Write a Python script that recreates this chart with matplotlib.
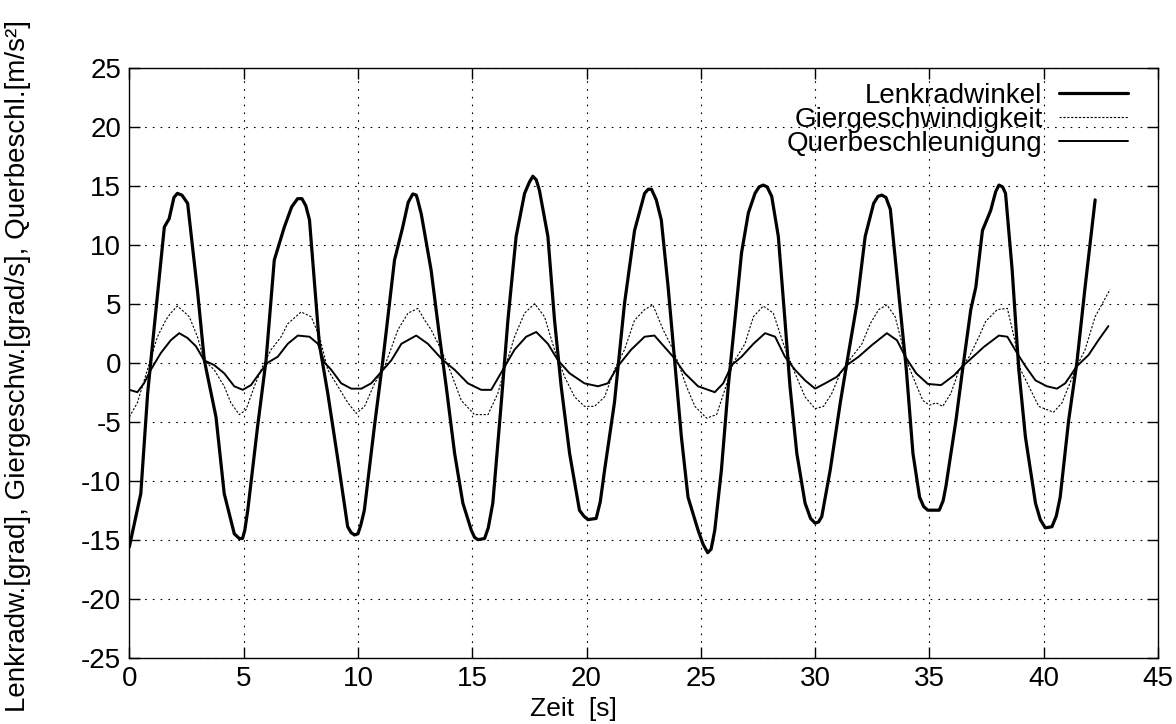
import matplotlib
matplotlib.use("Agg")
import matplotlib.pyplot as plt

plt.rcParams['font.family'] = ['Liberation Sans', 'DejaVu Sans']
plt.rcParams['axes.unicode_minus'] = False

# Lenkradwinkel [grad]
t_lenk = [0, 0.5, 0.8, 1.09, 1.53, 1.74, 1.95, 2.1, 2.3, 2.55, 2.99, 3.28, 3.79, 4.15, 4.59, 4.81, 4.95, 5.05,
          5.18, 5.61, 5.98, 6.34, 6.78, 7.1, 7.36, 7.55, 7.72, 7.88, 8.31, 8.68, 9.12, 9.55, 9.7, 9.85, 10.0,
          10.12, 10.28, 10.72, 11.09, 11.6, 11.96, 12.2, 12.4, 12.55, 12.6, 12.77, 13.2, 13.57, 13.86, 14.23,
          14.59, 14.96, 15.1, 15.25, 15.54, 15.7, 15.9, 16.27, 16.56, 16.92, 17.29, 17.5, 17.65, 17.8, 17.94,
          18.31, 18.6, 18.89, 19.26, 19.69, 19.88, 20.06, 20.42, 20.6, 20.79, 21.22, 21.66, 22.1, 22.54, 22.7,
          22.84, 23.05, 23.27, 23.57, 23.86, 24.15, 24.44, 24.88, 25.1, 25.3, 25.45, 25.61, 25.9, 26.2, 26.49,
          26.78, 27.08, 27.37, 27.55, 27.73, 27.9, 28.1, 28.39, 28.68, 28.9, 29.2, 29.56, 29.8, 30.0, 30.15,
          30.29, 30.66, 31.1, 31.46, 31.83, 32.19, 32.56, 32.75, 32.92, 33.1, 33.29, 33.7, 33.99, 34.28, 34.57,
          34.75, 34.93, 35.43, 35.6, 35.72, 36.16, 36.45, 36.81, 37.03, 37.32, 37.68, 37.9, 38.04, 38.2,
          38.33, 38.62, 38.91, 39.2, 39.64, 39.85, 40.07, 40.36, 40.55, 40.72, 41.09, 41.45, 41.81, 42.25]
y_lenk = [-15.6, -11.1, -2.6, 3.05, 11.5, 12.2, 14.0, 14.35, 14.2, 13.5, 5.9, 0.2, -4.6, -11.1, -14.5, -14.9,
          -14.9, -14.2, -12.5, -5.4, 0.2, 8.7, 11.5, 13.2, 13.9, 13.9, 13.3, 12.1, 1.6, -2.6, -8.2, -13.9,
          -14.4, -14.6, -14.5, -13.8, -12.5, -5.4, 0.2, 8.7, 11.5, 13.6, 14.3, 14.2, 13.9, 12.6, 7.85, 2.2,
          -2.0, -7.7, -11.9, -14.2, -14.8, -15.0, -14.9, -14.0, -11.9, -3.4, 3.6, 10.7, 14.35, 15.3, 15.8,
          15.5, 14.6, 10.7, 3.6, -2.0, -7.7, -12.5, -13.0, -13.3, -13.2, -11.8, -9.1, -3.4, 5.0, 11.2, 14.35,
          14.7, 14.7, 13.8, 12.1, 6.4, 0.0, -6.3, -11.4, -14.2, -15.4, -16.1, -15.8, -14.2, -9.1, -2.0, 3.6,
          9.3, 12.7, 14.35, 14.9, 15.05, 14.9, 14.1, 10.7, 3.6, -2.0, -7.7, -11.9, -13.2, -13.6, -13.5,
          -13.05, -9.1, -3.4, 0.8, 5.0, 10.7, 13.5, 14.1, 14.2, 14.0, 13.0, 5.0, -0.6, -7.7, -11.4, -12.2,
          -12.5, -12.5, -11.7, -10.5, -4.9, -0.6, 4.5, 6.4, 11.2, 12.9, 14.5, 15.05, 14.9, 14.35, 7.85, -0.6,
          -6.3, -11.9, -13.3, -14.0, -13.9, -13.0, -11.4, -4.9, 0.0, 6.4, 13.8]

# Giergeschwindigkeit [grad/s]
t_gier = [0, 0.35, 0.79, 1.23, 1.59, 1.81, 2.1, 2.4, 2.62, 2.98, 3.27, 3.71, 4.15, 4.44, 4.81, 5.1, 5.47, 5.83,
          6.2, 6.64, 6.93, 7.51, 7.95, 8.32, 8.68, 9.12, 9.56, 9.93, 10.29, 10.73, 11.17, 11.75, 12.19, 12.62,
          12.92, 13.2, 13.64, 14.08, 14.52, 15.1, 15.69, 16.12, 16.41, 16.85, 17.29, 17.73, 18.16, 18.6, 19.04,
          19.48, 19.91, 20.35, 20.79, 21.22, 21.66, 22.1, 22.54, 22.9, 23.35, 23.71, 24.01, 24.37, 24.74,
          25.25, 25.69, 26.05, 26.42, 26.93, 27.3, 27.73, 28.17, 28.61, 29.12, 29.56, 30.0, 30.37, 30.73,
          31.1, 31.61, 32.05, 32.41, 32.78, 33.14, 33.5, 33.99, 34.28, 34.71, 35.0, 35.29, 35.58, 35.94, 36.3,
          36.74, 37.17, 37.46, 37.97, 38.41, 38.7, 38.99, 39.35, 39.78, 40.43, 40.8, 41.09, 41.45, 41.81,
          42.25, 42.9]
y_gier = [-4.6, -3.4, -0.6, 2.2, 3.6, 4.2, 4.8, 4.3, 3.9, 2.2, 0.2, -0.6, -2.0, -3.4, -4.4, -4.0, -2.0, -0.3,
          1.1, 2.2, 3.3, 4.3, 3.9, 2.2, -0.6, -2.0, -3.4, -4.3, -3.7, -1.75, -0.3, 2.8, 4.2, 4.6, 3.6, 2.8,
          1.1, -0.9, -3.2, -4.4, -4.4, -2.6, -0.6, 2.2, 4.2, 5.0, 3.9, 1.1, -1.2, -2.9, -3.7, -3.7, -2.9,
          -0.6, 1.1, 3.6, 4.5, 4.9, 2.8, 1.4, 0.0, -2.0, -3.7, -4.7, -4.4, -2.3, 0.0, 1.6, 3.9, 4.8, 4.2, 1.6,
          -0.9, -2.9, -3.9, -3.7, -2.6, -0.9, 0.5, 1.6, 3.3, 4.5, 4.9, 3.9, 0.2, -1.2, -3.2, -3.6, -3.4, -3.7,
          -2.6, -0.6, 0.5, 2.2, 3.5, 4.5, 4.6, 2.2, -0.6, -2.0, -3.7, -4.2, -3.4, -2.0, -0.3, 1.1, 3.9, 6.2]

# Querbeschleunigung [m/s^2]
t_quer = [0, 0.35, 0.64, 0.94, 1.37, 1.81, 2.18, 2.54, 2.91, 3.27, 3.71, 4.15, 4.59, 4.96, 5.32, 5.69, 6.05,
          6.49, 6.93, 7.37, 7.88, 8.25, 8.54, 8.83, 9.27, 9.71, 10.15, 10.58, 11.1, 11.46, 11.9, 12.55, 13.06,
          13.72, 14.23, 14.81, 15.39, 15.83, 16.34, 16.85, 17.36, 17.8, 18.31, 18.75, 19.26, 19.91, 20.5,
          20.93, 21.37, 21.95, 22.54, 22.97, 23.79, 24.3, 24.88, 25.61, 25.98, 26.35, 26.78, 27.3, 27.81,
          28.25, 28.68, 29.12, 29.56, 30.0, 30.44, 30.95, 31.39, 31.9, 32.49, 33.14, 33.58, 33.95, 34.42,
          34.93, 35.51, 36.09, 36.45, 36.74, 37.39, 38.04, 38.41, 38.84, 39.2, 39.64, 40.14, 40.58, 40.94,
          41.45, 41.96, 42.39, 42.83]
y_quer = [-2.3, -2.5, -1.75, -0.6, 0.8, 1.9, 2.5, 2.1, 1.4, 0.2, -0.2, -0.9, -2.0, -2.3, -1.9, -0.9, 0.0, 0.5,
          1.6, 2.3, 2.2, 1.6, 0.0, -0.6, -1.75, -2.2, -2.2, -1.75, -0.6, 0.2, 1.6, 2.3, 1.6, 0.2, -0.6, -1.75,
          -2.3, -2.3, -0.6, 1.1, 2.2, 2.6, 1.6, 0.2, -0.9, -1.75, -2.0, -1.75, -0.3, 1.1, 2.2, 2.3, 0.5, -0.9,
          -2.0, -2.5, -1.75, -0.2, 0.5, 1.6, 2.5, 2.2, 0.5, -0.6, -1.5, -2.2, -1.75, -1.2, -0.2, 0.5, 1.5,
          2.5, 1.9, 0.5, -0.9, -1.8, -1.9, -1.05, -0.3, 0.2, 1.35, 2.3, 2.2, 0.8, -0.3, -1.5, -2.0, -2.2,
          -1.75, -0.3, 0.65, 1.9, 3.1]

x_ticks = [0, 5, 10, 15, 20, 25, 30, 35, 40, 45]
y_ticks = [-25, -20, -15, -10, -5, 0, 5, 10, 15, 20, 25]

FS = 20

fig = plt.figure(figsize=(11.76, 7.24), dpi=100)
ax = fig.add_axes([0.110, 0.0916, 0.8747, 0.8149])

ax.plot(t_lenk, y_lenk, color='black', lw=2.3, label='Lenkradwinkel',
        solid_joinstyle='round', solid_capstyle='round')
ax.plot(t_gier, y_gier, color='black', lw=0.8, linestyle=(0, (2, 1.5)), label='Giergeschwindigkeit')
ax.plot(t_quer, y_quer, color='black', lw=1.4, label='Querbeschleunigung',
        solid_joinstyle='round', solid_capstyle='round')

ax.set_xlim(0, 45)
ax.set_ylim(-25, 25)
ax.set_xticks(x_ticks)
ax.set_yticks(y_ticks)
ax.grid(True, color='black', lw=0.8, linestyle=(0, (1.5, 5.5)))
ax.tick_params(direction='in', length=8, width=1, top=True, right=True,
               labelsize=FS, pad=6, colors='black')
for s in ax.spines.values():
    s.set_linewidth(1.0)
    s.set_color('black')

leg = ax.legend(loc='upper right', bbox_to_anchor=(0.971, 0.974), frameon=False, markerfirst=False,
                fontsize=FS, handlelength=2.5, handletextpad=0.58, labelspacing=-0.07,
                borderpad=0, borderaxespad=0)
for txt in leg.get_texts():
    txt.set_ha('right')

fig.text(573 / 1176, 1 - 709 / 724, 'Zeit  [s]', fontsize=19, ha='center', va='center')
fig.text(18 / 1176, 1 - 366 / 724, 'Lenkradw.[grad], Giergeschw.[grad/s], Querbeschl.[m/s²]',
         fontsize=FS, rotation=90, ha='center', va='center')

fig.savefig('out.png', dpi=100)
